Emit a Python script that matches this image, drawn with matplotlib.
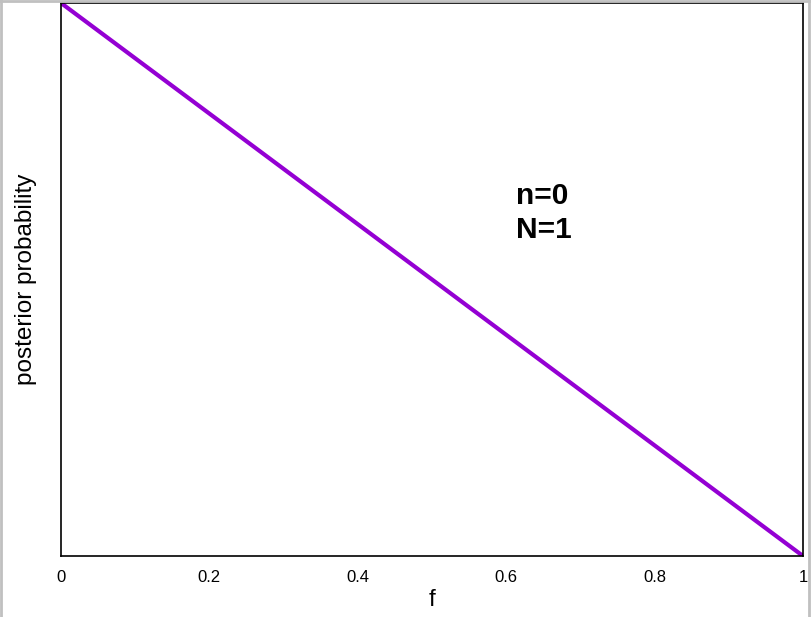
import matplotlib.pyplot as plt
import matplotlib.lines as mlines

# --- DATA ---
f_vals = [0.0, 1.0]
posterior = [2.0, 0.0]
xticks = [0, 0.2, 0.4, 0.6, 0.8, 1]
xtick_labels = ["0", "0.2", "0.4", "0.6", "0.8", "1"]
note = "n=0\nN=1"

plt.rcParams['font.family'] = ['Liberation Sans', 'DejaVu Sans']

fig = plt.figure(figsize=(8.11, 6.17), dpi=100)
ax = fig.add_axes([61 / 811, 1 - 556 / 617, 742 / 811, 553 / 617])

ax.plot(f_vals, posterior, color='#9400d3', linewidth=3, solid_capstyle='butt')
ax.set_xlim(0, 1)
ax.set_ylim(0, 2)

ax.set_xticks(xticks)
ax.set_xticklabels(xtick_labels, fontsize=12)
ax.tick_params(axis='x', length=0, pad=10)
ax.set_yticks([])
for sp in ax.spines.values():
    sp.set_linewidth(1.2)

ax.set_xlabel("f", fontsize=17.5, labelpad=3)
ax.set_ylabel("posterior probability", fontsize=17.5, labelpad=17)

ax.text(0.613, 1.24, note, fontsize=21.5, fontweight='bold', va='center', ha='left',
        linespacing=1.3)

# grey frame on the left, top and right edges of the picture
for xs, ys in [([0.001, 0.001], [0, 1]), ([0, 1], [0.999, 0.999]), ([0.997, 0.997], [0, 1])]:
    fig.add_artist(mlines.Line2D(xs, ys, color='#c0c0c0', linewidth=2, transform=fig.transFigure))

fig.savefig("out.png", dpi=100)
